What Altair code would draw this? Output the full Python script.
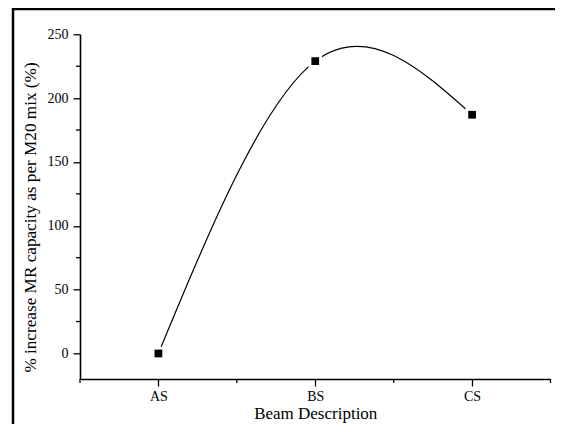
import altair as alt
import pandas as pd

# ---- data ----
categories = ["AS", "BS", "CS"]
positions = [1, 2, 3]
values = [0, 229, 187]

y_major = [0, 50, 100, 150, 200, 250]
y_minor = [25, 75, 125, 175, 225]
x_minor = [0.5, 1.5, 2.5, 3.5]

x_title = "Beam Description"
y_title = "% increase MR capacity as per M20 mix (%)"

FONT = "Liberation Serif"
W, H = 470.5, 344.7

df = pd.DataFrame({"pos": positions, "cat": categories, "val": values})
df_ym = pd.DataFrame({"v": y_minor})
df_xm = pd.DataFrame({"v": x_minor})
df_one = pd.DataFrame({"a": [0]})

label_expr = " : ".join(
    f"datum.value == {p} ? '{c}'" for p, c in zip(positions, categories)
) + " : ''"

xscale = alt.Scale(domain=[0.5, 3.5], nice=False, zero=False)
yscale = alt.Scale(domain=[-20, 250], nice=False, zero=False)

xaxis = alt.Axis(
    values=positions, labelExpr=label_expr, title=x_title, grid=False,
    tickSize=7, tickColor="black", tickWidth=1.3, domainColor="black", domainWidth=1.6,
    labelFont=FONT, labelFontSize=14, labelColor="black", labelPadding=3,
    titleFont=FONT, titleFontSize=17, titleFontWeight="normal", titleColor="black",
    titleX=W / 2, titleY=39.5, titleBaseline="alphabetic", titleAlign="center",
)
yaxis = alt.Axis(
    values=y_major, format="d", title=y_title, grid=False,
    tickSize=7, tickColor="black", tickWidth=1.3, domainColor="black", domainWidth=1.6,
    labelFont=FONT, labelFontSize=14, labelColor="black", labelPadding=5,
    titleFont=FONT, titleFontSize=17.2, titleFontWeight="normal", titleColor="black",
    titleX=-50, titleY=182.7, titleAngle=270, titleBaseline="middle", titleAlign="center",
)

base = alt.Chart(df)

line = base.mark_line(interpolate="natural", color="black", strokeWidth=1.2).encode(
    x=alt.X("pos:Q", scale=xscale, axis=xaxis),
    y=alt.Y("val:Q", scale=yscale, axis=yaxis),
)
halo = base.mark_square(size=180, color="white", opacity=1, filled=True).encode(
    x=alt.X("pos:Q", scale=xscale), y=alt.Y("val:Q", scale=yscale)
)
pts = base.mark_square(size=60, color="black", opacity=1, filled=True).encode(
    x=alt.X("pos:Q", scale=xscale), y=alt.Y("val:Q", scale=yscale)
)

yminor = alt.Chart(df_ym).mark_rule(color="black", strokeWidth=1.3).encode(
    y=alt.Y("v:Q", scale=yscale), x=alt.value(-4), x2=alt.value(0)
)
xminor = alt.Chart(df_xm).mark_rule(color="black", strokeWidth=1.3).encode(
    x=alt.X("v:Q", scale=xscale), y=alt.value(H), y2=alt.value(H + 4)
)

top_border = alt.Chart(df_one).mark_rule(color="black", strokeWidth=2.5).encode(
    x=alt.value(-68), x2=alt.value(W + 20), y=alt.value(-25.3)
)
left_border = alt.Chart(df_one).mark_rule(color="black", strokeWidth=2.5).encode(
    x=alt.value(-67), y=alt.value(-26.5), y2=alt.value(H + 60)
)

chart = alt.layer(line, halo, pts, yminor, xminor, top_border, left_border).properties(
    width=W, height=H,
    autosize=alt.AutoSizeParams(type="none"),
    padding={"left": 72, "top": 26.3, "right": 4, "bottom": 45},
).configure_view(stroke=None)

chart.save("out.html", embed_options={"renderer": "svg", "actions": False})
